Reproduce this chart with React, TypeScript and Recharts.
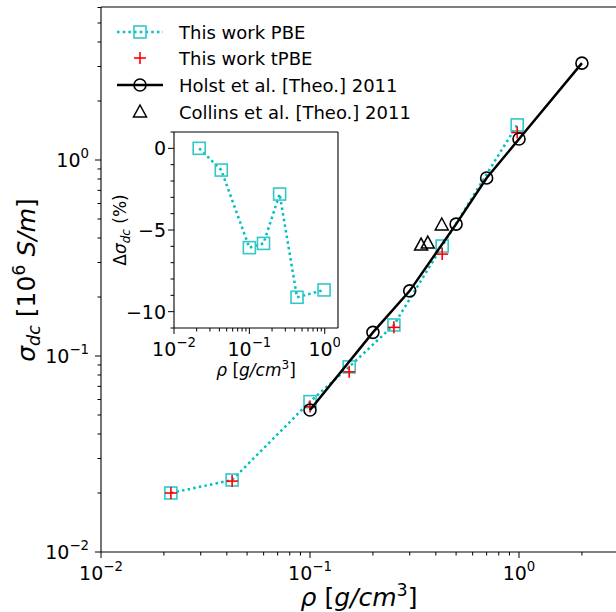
import React from "react";
import { ReferenceLine, Scatter, ScatterChart, XAxis, YAxis } from "recharts";

// densities of this work (g/cm3) and conductivities (10^6 S/m)
const rhoWork = [0.0216, 0.0424, 0.1, 0.154, 0.252, 0.429, 0.98];
const sigmaPBE = [0.02, 0.0233, 0.0585, 0.088, 0.144, 0.364, 1.51];
const sigmaTPBE = [0.02, 0.023, 0.0552, 0.083, 0.14, 0.331, 1.38];

const rhoHolst = [0.1, 0.2, 0.3, 0.5, 0.7, 1.0, 2.0];
const sigmaHolst = [0.053, 0.132, 0.215, 0.471, 0.81, 1.28, 3.12];

const rhoCollins = [0.34, 0.366, 0.427];
const sigmaCollins = [0.368, 0.377, 0.466];

// inset: relative difference tPBE vs PBE (%)
const deltaSigma = [0, -1.33, -6.08, -5.82, -2.8, -9.12, -8.67];

const majorDecades = [0.01, 0.1, 1];
const insetYMajor = [0, -5, -10];
const decadeExp: Record<string, string> = { "0.01": "\u22122", "0.1": "\u22121", "1": "0" };

const FONT = "DejaVu Sans, sans-serif";
const CYAN_LINE = "#00bfbf";
const CYAN_MARK = "#33c7c7";

const X_MAX = 2.911;
const Y_MAX = 6.035;

const pbeData = rhoWork.map((r, i) => ({ x: r, y: sigmaPBE[i] }));
const tpbeData = rhoWork.map((r, i) => ({ x: r, y: sigmaTPBE[i] }));
const holstData = rhoHolst.map((r, i) => ({ x: r, y: sigmaHolst[i] }));
const collinsData = rhoCollins.map((r, i) => ({ x: r, y: sigmaCollins[i] }));
const insetData = rhoWork.map((r, i) => ({ x: r, y: deltaSigma[i] }));

function logTicks(max: number) {
  const out: number[] = [];
  for (const d of majorDecades.concat([10])) {
    for (let m = 1; m <= 9; m++) {
      const v = +(d * m).toPrecision(3);
      if (v <= max * 1.0001) out.push(v);
    }
  }
  return out;
}
const isMajor = (v: number) => majorDecades.some((d) => Math.abs(d - v) < 1e-9);

const mainXTicks = logTicks(X_MAX);
const mainYTicks = logTicks(Y_MAX);
const insetXTicks = logTicks(1.5);
const insetYTicks: number[] = [];
for (let v = 1; v >= -11; v--) insetYTicks.push(v);

function Pow10({ v, x, y, anchor, size }: any) {
  return (
    <text x={x} y={y} textAnchor={anchor} fontFamily={FONT} fontSize={size} fill="#000">
      <tspan>10</tspan>
      <tspan dy={-size * 0.45} fontSize={size * 0.7}>
        {decadeExp[String(v)]}
      </tspan>
    </text>
  );
}

function XLogTick(props: any) {
  const { x, y, payload } = props;
  const major = isMajor(payload.value);
  return (
    <g>
      <line x1={x} x2={x} y1={y} y2={y + (major ? 6 : 3.5)} stroke="#000" strokeWidth={1} />
      {major && <Pow10 v={payload.value} x={x} y={y + 28} anchor="middle" size={19} />}
    </g>
  );
}

function YLogTick(props: any) {
  const { x, y, payload } = props;
  const major = isMajor(payload.value);
  return (
    <g>
      <line x1={x} x2={x - (major ? 6 : 3.5)} y1={y} y2={y} stroke="#000" strokeWidth={1} />
      {major && <Pow10 v={payload.value} x={x - 12} y={y + 7} anchor="end" size={19} />}
    </g>
  );
}

function YLinTick(props: any) {
  const { x, y, payload } = props;
  const major = insetYMajor.includes(payload.value);
  const label = payload.value < 0 ? "\u2212" + Math.abs(payload.value) : String(payload.value);
  return (
    <g>
      <line x1={x} x2={x - (major ? 6 : 3.5)} y1={y} y2={y} stroke="#000" strokeWidth={1} />
      {major && (
        <text x={x - 8} y={y + 7} textAnchor="end" fontFamily={FONT} fontSize={19} fill="#000">
          {label}
        </text>
      )}
    </g>
  );
}

const Square = ({ cx, cy }: any) => (
  <rect x={cx - 6} y={cy - 6} width={12} height={12} fill="none" stroke={CYAN_MARK} strokeWidth={1.6} />
);
const Cross = ({ cx, cy }: any) => (
  <g stroke="#ff0000" strokeWidth={1.6}>
    <line x1={cx - 6} x2={cx + 6} y1={cy} y2={cy} />
    <line x1={cx} x2={cx} y1={cy - 6} y2={cy + 6} />
  </g>
);
const Circle = ({ cx, cy }: any) => (
  <circle cx={cx} cy={cy} r={6} fill="none" stroke="#000" strokeWidth={1.6} />
);
const Triangle = ({ cx, cy }: any) => (
  <path d={`M${cx},${cy - 7}L${cx + 6.5},${cy + 5}L${cx - 6.5},${cy + 5}Z`} fill="none" stroke="#000" strokeWidth={1.5} />
);

const dotted = { stroke: CYAN_LINE, strokeWidth: 2.5, strokeDasharray: "2.5 3.2" };

function Legend() {
  const rows = [
    { label: "This work PBE", y: 32 },
    { label: "This work tPBE", y: 58 },
    { label: "Holst et al. [Theo.] 2011", y: 85 },
    { label: "Collins et al. [Theo.] 2011", y: 112 },
  ];
  return (
    <g>
      <line x1={117} x2={163} y1={rows[0].y} y2={rows[0].y} {...dotted} />
      <Square cx={140} cy={rows[0].y} />
      <Cross cx={140} cy={rows[1].y} />
      <line x1={117} x2={163} y1={rows[2].y} y2={rows[2].y} stroke="#000" strokeWidth={2.5} />
      <Circle cx={140} cy={rows[2].y} />
      <Triangle cx={140} cy={rows[3].y} />
      {rows.map((r) => (
        <text key={r.label} x={179} y={r.y + 6.5} fontFamily={FONT} fontSize={18} fill="#000">
          {r.label}
        </text>
      ))}
    </g>
  );
}

export default function App() {
  return (
    <div style={{ position: "absolute", left: 0, top: 0, width: 616, height: 612, background: "#fff", overflow: "hidden" }}>
      <div style={{ position: "absolute", left: 0, top: 0 }}>
        <ScatterChart width={616} height={612} margin={{ top: 7, right: 0, left: 0, bottom: 0 }}>
          <XAxis
            type="number"
            dataKey="x"
            scale="log"
            domain={[0.01, X_MAX]}
            allowDataOverflow
            ticks={mainXTicks}
            interval={0}
            height={60}
            tickSize={0}
            tickMargin={0}
            tick={(p: any) => <XLogTick {...p} />}
            axisLine={{ stroke: "#000", strokeWidth: 1.1 }}
          />
          <YAxis
            type="number"
            dataKey="y"
            scale="log"
            domain={[0.01, Y_MAX]}
            allowDataOverflow
            ticks={mainYTicks}
            interval={0}
            width={101}
            tickSize={0}
            tickMargin={0}
            tick={(p: any) => <YLogTick {...p} />}
            axisLine={{ stroke: "#000", strokeWidth: 1.1 }}
          />
          <ReferenceLine y={Y_MAX} stroke="#000" strokeWidth={1.1} />
          <Scatter data={pbeData} line={dotted} lineType="joint" shape={Square} isAnimationActive={false} />
          <Scatter data={tpbeData} shape={Cross} isAnimationActive={false} />
          <Scatter
            data={holstData}
            line={{ stroke: "#000", strokeWidth: 2.5 }}
            lineType="joint"
            shape={Circle}
            isAnimationActive={false}
          />
          <Scatter data={collinsData} shape={Triangle} isAnimationActive={false} />
        </ScatterChart>
      </div>

      <div style={{ position: "absolute", left: 174, top: 132, width: 164, height: 196, background: "#fff" }} />

      <div style={{ position: "absolute", left: 110, top: 124 }}>
        <ScatterChart width={230} height={264} margin={{ top: 8, right: 2, left: 0, bottom: 0 }}>
          <XAxis
            type="number"
            dataKey="x"
            scale="log"
            domain={[0.01, 1.5]}
            allowDataOverflow
            ticks={insetXTicks}
            interval={0}
            height={60}
            tickSize={0}
            tickMargin={0}
            tick={(p: any) => <XLogTick {...p} />}
            axisLine={{ stroke: "#000", strokeWidth: 1.1 }}
          />
          <YAxis
            type="number"
            dataKey="y"
            domain={[-11, 1]}
            allowDataOverflow
            ticks={insetYTicks}
            interval={0}
            width={64}
            tickSize={0}
            tickMargin={0}
            tick={(p: any) => <YLinTick {...p} />}
            axisLine={{ stroke: "#000", strokeWidth: 1.1 }}
          />
          <ReferenceLine y={1} stroke="#000" strokeWidth={1.1} />
          <ReferenceLine x={1.5} stroke="#000" strokeWidth={1.1} />
          <Scatter data={insetData} line={dotted} lineType="joint" shape={Square} isAnimationActive={false} />
        </ScatterChart>
      </div>

      <svg width={616} height={612} style={{ position: "absolute", left: 0, top: 0, pointerEvents: "none" }}>
        <Legend />
        <text x={359} y={606} textAnchor="middle" fontFamily={FONT} fontSize={25} fill="#000">
          <tspan fontStyle="italic">ρ</tspan>
          <tspan> [</tspan>
          <tspan fontStyle="italic">g/cm</tspan>
          <tspan dy={-10} fontSize={17.5}>3</tspan>
          <tspan dy={10}>]</tspan>
        </text>
        <text
          x={35}
          y={280}
          textAnchor="middle"
          transform="rotate(-90 35 280)"
          fontFamily={FONT}
          fontSize={25}
          fill="#000"
        >
          <tspan fontStyle="italic">σ</tspan>
          <tspan fontStyle="italic" fontSize={17.5} dy={5}>dc</tspan>
          <tspan dy={-5}> [10</tspan>
          <tspan fontSize={17.5} dy={-10}>6</tspan>
          <tspan dy={10}> </tspan>
          <tspan fontStyle="italic">S/m</tspan>
          <tspan>]</tspan>
        </text>
        <text x={256} y={376} textAnchor="middle" fontFamily={FONT} fontSize={17} fill="#000">
          <tspan fontStyle="italic">ρ</tspan>
          <tspan> [</tspan>
          <tspan fontStyle="italic">g/cm</tspan>
          <tspan dy={-7} fontSize={12}>3</tspan>
          <tspan dy={7}>]</tspan>
        </text>
        <text
          x={126}
          y={230}
          textAnchor="middle"
          transform="rotate(-90 126 230)"
          fontFamily={FONT}
          fontSize={17}
          fill="#000"
        >
          <tspan>Δ</tspan>
          <tspan fontStyle="italic">σ</tspan>
          <tspan fontStyle="italic" fontSize={12} dy={3.5}>dc</tspan>
          <tspan dy={-3.5}> (%)</tspan>
        </text>
      </svg>
    </div>
  );
}
